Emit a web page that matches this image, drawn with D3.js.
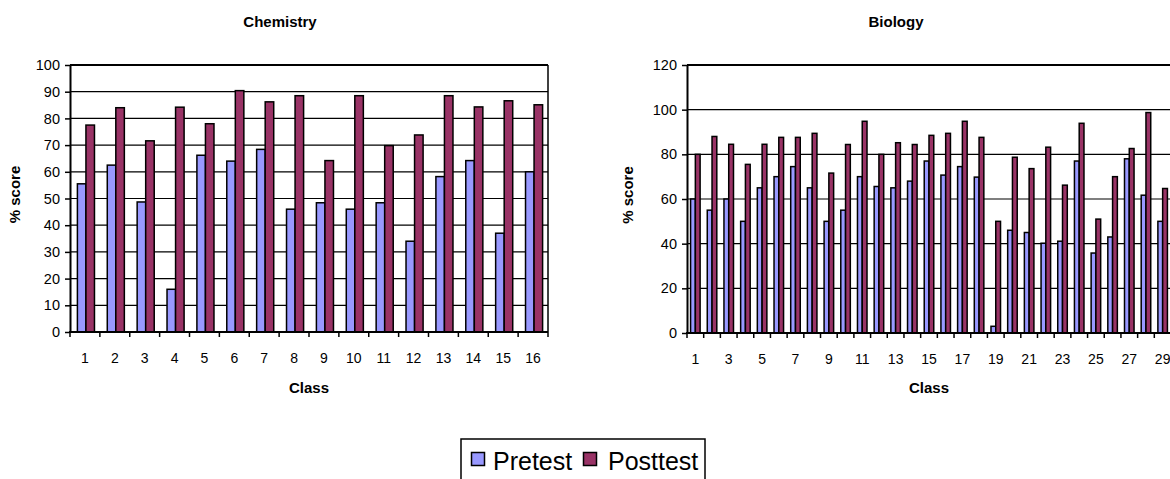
<!DOCTYPE html>
<html><head><meta charset="utf-8">
<script src="https://cdn.jsdelivr.net/npm/d3@7"></script>
<style>
body{margin:0;background:#fff}
svg{display:block}
text{font-family:"Liberation Sans",Arial,sans-serif;fill:#000}
</style>
</head><body>
<svg id="c" width="1170" height="479"></svg>
<script>
const series = ["Pretest", "Posttest"];
const seriesColors = ["#9999FF", "#993366"];

const chemClasses = ["1","2","3","4","5","6","7","8","9","10","11","12","13","14","15","16"];
const chemPre  = [55.5, 62.5, 48.7, 16, 66.2, 64, 68.4, 46, 48.4, 46, 48.4, 34, 58.2, 64.2, 37, 60];
const chemPost = [77.5, 84, 71.6, 84.2, 78, 90.4, 86.2, 88.5, 64.2, 88.5, 69.8, 73.8, 88.5, 84.3, 86.6, 85.1];
const chemYTicks = [0, 10, 20, 30, 40, 50, 60, 70, 80, 90, 100];

const bioClasses = ["1","2","3","4","5","6","7","8","9","10","11","12","13","14","15","16","17","18","19","20","21","22","23","24","25","26","27","28","29"];
const bioPre  = [60, 55, 60, 50, 65, 70, 74.5, 65, 50, 55, 70, 65.6, 65, 68, 77, 70.7, 74.5, 69.8, 3, 46, 45, 40.2, 41.1, 77, 35.8, 43, 78, 61.7, 50];
const bioPost = [80, 88, 84.5, 75.5, 84.5, 87.6, 87.6, 89.4, 71.6, 84.4, 94.8, 80, 85.2, 84.4, 88.5, 89.4, 94.8, 87.6, 50, 78.7, 73.6, 83.2, 66.2, 93.9, 51, 70, 82.6, 98.7, 64.7];
const bioYTicks = [0, 20, 40, 60, 80, 100, 120];
const bioXLabels = ["1","3","5","7","9","11","13","15","17","19","21","23","25","27","29"];

const svg = d3.select("#c");

function drawPanel(cfg) {
  const g = svg.append("g");
  const x0 = d3.scaleBand().domain(cfg.classes).range([cfg.left, cfg.right]).padding(0);
  const C = x0.bandwidth();
  const x1 = d3.scaleBand().domain(series).range([C * 0.75 / 3.5, C * 2.75 / 3.5]).padding(0);
  const y = d3.scaleLinear().domain([0, cfg.max]).range([cfg.bottom, cfg.top]);

  // gridlines
  g.append("g").selectAll("line").data(cfg.yTicks.filter(v => v > 0 && v < cfg.max)).join("line")
    .attr("x1", cfg.left).attr("x2", cfg.right)
    .attr("y1", d => y(d)).attr("y2", d => y(d))
    .attr("stroke", "#000").attr("stroke-width", 1.2);

  // bars
  const rows = cfg.classes.map((c, i) => ({c, vals: [cfg.pre[i], cfg.post[i]]}));
  g.append("g").selectAll("g").data(rows).join("g")
    .attr("transform", d => `translate(${x0(d.c) + cfg.shift},0)`)
    .selectAll("rect").data(d => d.vals.map((v, k) => ({s: series[k], v, k}))).join("rect")
    .attr("x", d => x1(d.s)).attr("width", x1.bandwidth())
    .attr("y", d => y(d.v)).attr("height", d => y(0) - y(d.v))
    .attr("fill", d => seriesColors[d.k])
    .attr("stroke", "#000").attr("stroke-width", 1.5);

  // plot border top & right
  g.append("line").attr("x1", cfg.left).attr("x2", cfg.right).attr("y1", y(cfg.max)).attr("y2", y(cfg.max))
    .attr("stroke", "#000").attr("stroke-width", 2);
  g.append("line").attr("x1", cfg.right).attr("x2", cfg.right).attr("y1", y(cfg.max)).attr("y2", y(0))
    .attr("stroke", "#000").attr("stroke-width", 1.5);

  // y axis
  const ya = g.append("g").attr("transform", `translate(${cfg.left},0)`)
    .call(d3.axisLeft(y).tickValues(cfg.yTicks).tickSize(5).tickSizeOuter(0).tickPadding(5));
  ya.select(".domain").attr("stroke", "#000").attr("stroke-width", 2);
  ya.selectAll(".tick line").attr("stroke", "#000").attr("stroke-width", 1.5);
  ya.selectAll(".tick text").attr("font-size", 14.5).attr("font-family", "Liberation Sans, Arial, sans-serif").attr("fill", "#000");

  // x axis line
  g.append("line").attr("x1", cfg.left - 1).attr("x2", cfg.right).attr("y1", y(0)).attr("y2", y(0))
    .attr("stroke", "#000").attr("stroke-width", 2);
  // x ticks at category boundaries
  const bounds = cfg.classes.map(c => x0(c)).concat([x0(cfg.classes[cfg.classes.length - 1]) + C]);
  g.append("g").selectAll("line").data(bounds).join("line")
    .attr("x1", d => d).attr("x2", d => d).attr("y1", y(0)).attr("y2", y(0) + 5)
    .attr("stroke", "#000").attr("stroke-width", 1.5);
  // x labels
  const xa = g.append("g").attr("transform", `translate(0,${y(0)})`)
    .call(d3.axisBottom(x0).tickValues(cfg.xLabels).tickSize(0).tickPadding(21));
  xa.select(".domain").remove();
  xa.selectAll(".tick text").attr("font-size", 14).attr("font-family", "Liberation Sans, Arial, sans-serif").attr("fill", "#000");

  // axis titles
  g.append("text").attr("x", (cfg.left + cfg.right) / 2).attr("y", 393)
    .attr("text-anchor", "middle").attr("font-weight", "bold").attr("font-size", 15).text("Class");
  g.append("text").attr("transform", `translate(${cfg.yTitleX},${(cfg.top + cfg.bottom) / 2 - 4}) rotate(-90)`)
    .attr("text-anchor", "middle").attr("font-weight", "bold").attr("font-size", 15).text("% score");
  // chart title
  g.append("text").attr("x", cfg.titleX).attr("y", 27)
    .attr("text-anchor", "middle").attr("font-weight", "bold").attr("font-size", 15).text(cfg.title);
}

drawPanel({title: "Chemistry", titleX: 280, classes: chemClasses, pre: chemPre, post: chemPost,
  yTicks: chemYTicks, max: 100, xLabels: chemClasses, shift: 1,
  left: 70, right: 548, top: 65, bottom: 332, yTitleX: 20});

drawPanel({title: "Biology", titleX: 896, classes: bioClasses, pre: bioPre, post: bioPost,
  yTicks: bioYTicks, max: 120, xLabels: bioXLabels, shift: 0,
  left: 687, right: 1171, top: 65, bottom: 333, yTitleX: 633});

// legend
const lg = svg.append("g");
lg.append("rect").attr("x", 461).attr("y", 439).attr("width", 244).attr("height", 60)
  .attr("fill", "#fff").attr("stroke", "#000").attr("stroke-width", 1.5);
const legendItems = series.map((s, i) => ({s, i}));
const lx = [471.5, 583.5];
const lt = [493, 608];
lg.selectAll("rect.sw").data(legendItems).join("rect").attr("class", "sw")
  .attr("x", d => lx[d.i]).attr("y", 452.5).attr("width", 13).attr("height", 13)
  .attr("fill", d => seriesColors[d.i]).attr("stroke", "#000").attr("stroke-width", 1.5);
lg.selectAll("text.lt").data(legendItems).join("text").attr("class", "lt")
  .attr("x", d => lt[d.i]).attr("y", 470).attr("font-size", 25).text(d => d.s);
</script>
</body></html>
